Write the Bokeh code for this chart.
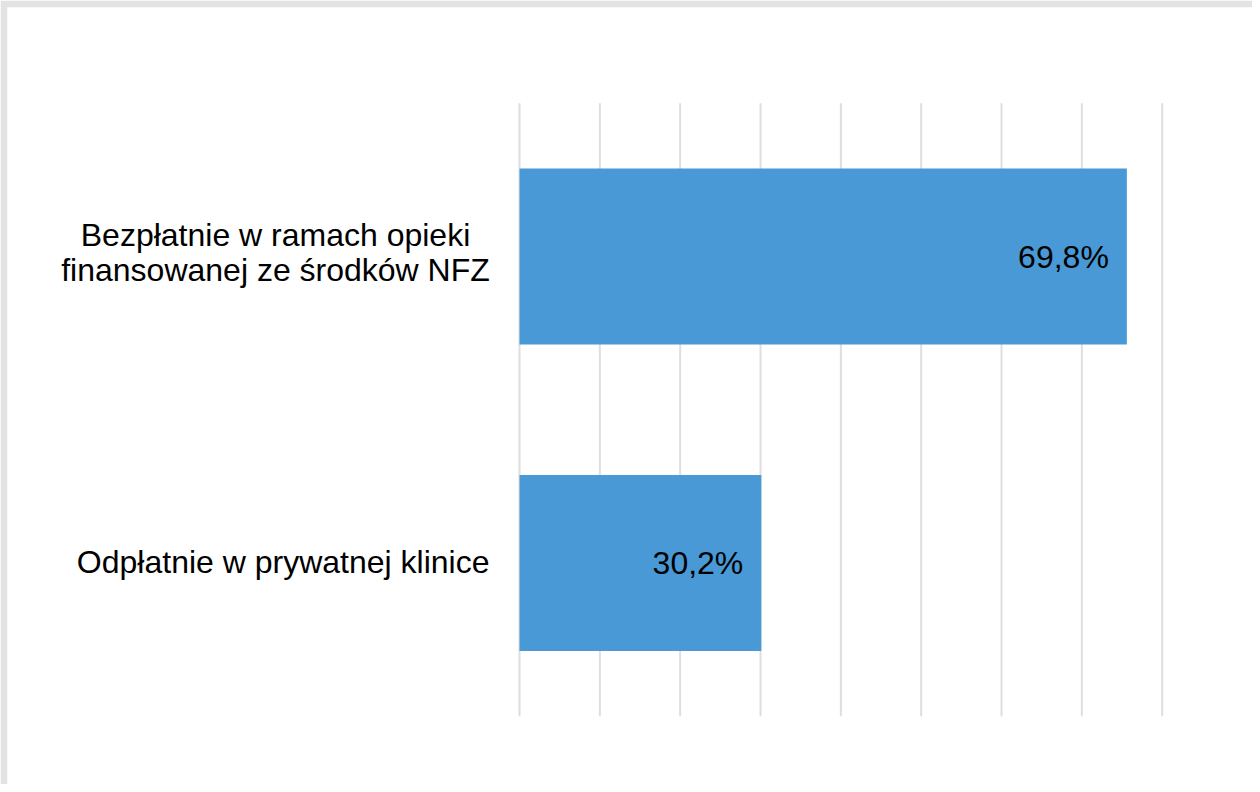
from bokeh.plotting import figure
from bokeh.models import Range1d, ColumnDataSource
from bokeh.core.properties import value
from bokeh.embed import file_html
from bokeh.resources import INLINE

# ---- data ----
categories = ["Bezpłatnie w ramach opieki\nfinansowanej ze środków NFZ",
              "Odpłatnie w prywatnej klinice"]
shares = [69.8, 30.2]          # values printed on the bars
bar_extent = [75.6, 30.1]      # bar lengths as drawn in the picture
y_pos = [1, 0]
ticks = [0, 10, 20, 30, 40, 50, 60, 70, 80]

labels = [f"{v:.1f}".replace(".", ",") + "%" for v in shares]

# ---- layout constants ----
W, H = 1252, 784
BORDER = 7
FONT = value("Liberation Sans")
FS = "32px"

px_per_unit = (1169.7 - 527.0) / 80.0
x0_page, frame_left, frame_right = 527.0, 15.0, 1260.0
x_start = (frame_left - x0_page) / px_per_unit
x_end = (frame_right - x0_page) / px_per_unit

py_per_unit = 306.5
y_start = -(792.0 - 570.5) / py_per_unit
y_end = 1 + (264.0 - 15.0) / py_per_unit

p = figure(width=W, height=H, output_backend="svg", toolbar_location=None,
           x_range=Range1d(x_start, x_end), y_range=Range1d(y_start, y_end),
           x_axis_location=None, y_axis_location=None,
           min_border_left=BORDER, min_border_top=BORDER,
           min_border_right=0, min_border_bottom=0)
p.border_fill_color = "#e3e3e3"
p.background_fill_color = "white"
p.outline_line_color = None
for g in p.grid:
    g.visible = False

# gridlines
p.segment(x0=ticks, y0=[-0.5] * len(ticks), x1=ticks, y1=[1.5] * len(ticks),
          line_color="#dedede", line_width=2)

src = ColumnDataSource(dict(y=y_pos, right=bar_extent, lab=labels, cat=categories))

p.hbar(y="y", left=0, right="right", height=176.0 / py_per_unit, source=src,
       fill_color="#4899d5", line_color=None)

p.text(x="right", y="y", text="lab", source=src, x_offset=-18,
       text_align="right", text_baseline="middle", text_font=FONT,
       text_font_size=FS, text_color="#000000")

# category labels
p.text(x=[0], y=[y_pos[0]], text=[categories[0]], x_offset=-244, y_offset=-4,
       text_align="center", text_baseline="middle", text_font=FONT,
       text_font_size=FS, text_color="#000000", text_line_height=0.95)
p.text(x=[0], y=[y_pos[1]], text=[categories[1]], x_offset=-30, y_offset=-1,
       text_align="right", text_baseline="middle", text_font=FONT,
       text_font_size=FS, text_color="#000000")

open("out.html", "w").write(file_html(p, INLINE))
